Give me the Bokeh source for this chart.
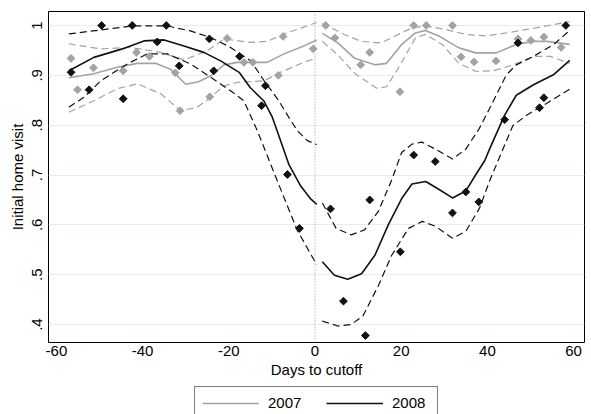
from bokeh.plotting import figure
from bokeh.layouts import column
from bokeh.models import Range1d, FixedTicker, Span, Legend, LegendItem
from bokeh.embed import file_html
from bokeh.resources import INLINE
import math

# ---- binned means (markers) ----
days_2007 = [-56.6, -55.1, -51.4, -44.5, -41.4, -38.4, -32.4, -31.3, -24.4, -20.4, -16.5, -14.4, -8.5, -7.4, -0.4,
             2.5, 4.6, 10.6, 12.7, 19.7, 22.9, 25.8, 31.9, 33.9, 36.9, 42.0, 47.1, 50.1, 53.1, 57.1]
visit_2007 = [0.934, 0.871, 0.915, 0.909, 0.946, 0.938, 0.905, 0.829, 0.857, 0.974, 0.926, 0.926, 0.900, 0.978, 0.953,
              1.0, 0.975, 0.921, 0.946, 0.867, 1.0, 1.0, 1.0, 0.937, 0.927, 0.929, 0.973, 0.970, 0.977, 0.956]
days_2008 = [-56.6, -52.4, -49.5, -44.5, -42.4, -36.6, -34.5, -31.5, -24.5, -23.5, -17.5, -12.4, -11.5, -6.4, -3.6,
             3.6, 6.6, 11.7, 12.7, 19.8, 22.9, 27.9, 31.9, 35.0, 38.0, 44.0, 47.1, 52.1, 53.1, 58.2]
visit_2008 = [0.906, 0.871, 1.0, 0.853, 1.0, 0.967, 1.0, 0.919, 0.973, 0.909, 0.938, 0.839, 0.879, 0.701, 0.593,
              0.632, 0.447, 0.378, 0.650, 0.546, 0.740, 0.727, 0.624, 0.666, 0.646, 0.811, 0.965, 0.835, 0.855, 1.0]

# ---- 2007 fits, left of cutoff ----
fit07_left_x = [-57.1, -51.3, -45.9, -41.2, -37.0, -33.5, -30.0, -27.0, -24.2, -21.1, -18.0, -11.1, -7.2, -2.6, 0.4]
fit07_left_y = [0.895, 0.903, 0.916, 0.924, 0.924, 0.912, 0.882, 0.887, 0.899, 0.921, 0.926, 0.926, 0.943, 0.959, 0.971]
hi07_left_x = [-57.1, -49.7, -42.8, -35.8, -30.4, -25.0, -21.1, -14.9, -11.1, -7.2, 0.4]
hi07_left_y = [0.963, 0.953, 0.956, 0.946, 0.931, 0.949, 0.973, 0.966, 0.968, 0.983, 1.006]
lo07_left_x = [-57.1, -51.3, -45.9, -41.2, -35.8, -31.2, -27.3, -24.2, -21.1, -18.0, -11.8, -8.0, -2.6, 0.4]
lo07_left_y = [0.826, 0.849, 0.873, 0.883, 0.863, 0.829, 0.836, 0.856, 0.879, 0.886, 0.889, 0.906, 0.926, 0.935]
# ---- 2007 fits, right of cutoff ----
fit07_right_x = [1.7, 5.3, 9.2, 13.9, 16.6, 20.1, 23.3, 25.6, 28.7, 33.4, 37.3, 42.1, 46.7, 50.7, 53.8, 59.1]
fit07_right_y = [0.984, 0.965, 0.934, 0.921, 0.924, 0.962, 0.985, 0.990, 0.979, 0.955, 0.945, 0.945, 0.962, 0.968, 0.968, 0.962]
hi07_right_x = [1.7, 6.8, 10.7, 15.4, 18.6, 22.5, 25.6, 30.3, 35.0, 39.7, 44.4, 49.1, 53.8, 59.1]
hi07_right_y = [1.004, 0.982, 0.968, 0.965, 0.979, 0.995, 0.999, 0.992, 0.982, 0.979, 0.985, 0.992, 0.999, 1.008]
lo07_right_x = [1.7, 5.3, 9.2, 14.3, 16.6, 19.3, 23.3, 25.6, 29.5, 33.4, 37.3, 41.3, 46.0, 50.7, 54.6, 59.1]
lo07_right_y = [0.968, 0.941, 0.904, 0.874, 0.877, 0.914, 0.975, 0.982, 0.962, 0.924, 0.908, 0.909, 0.921, 0.938, 0.938, 0.924]

# ---- 2008 fits, left of cutoff ----
fit08_left_x = [-57.1, -51.3, -44.7, -39.7, -35.0, -30.4, -25.8, -21.9, -17.6, -15.0, -11.9, -9.9, -8.0, -6.1, -3.4, -1.0, 0.4]
fit08_left_y = [0.909, 0.936, 0.953, 0.969, 0.971, 0.959, 0.946, 0.929, 0.906, 0.875, 0.849, 0.816, 0.769, 0.722, 0.679, 0.652, 0.641]
hi08_left_x = [-57.1, -49.7, -42.4, -34.3, -28.9, -24.2, -19.6, -14.9, -11.8, -8.4, -6.1, -4.1, -1.8, 0.4]
hi08_left_y = [0.983, 0.991, 0.999, 0.999, 0.989, 0.976, 0.956, 0.929, 0.889, 0.849, 0.816, 0.789, 0.769, 0.761]
lo08_left_x = [-57.1, -53.6, -49.7, -43.5, -38.9, -34.3, -28.9, -24.2, -19.6, -16.5, -13.4, -10.3, -7.2, -4.1, -0.65, 0.4]
lo08_left_y = [0.836, 0.856, 0.889, 0.923, 0.943, 0.943, 0.923, 0.896, 0.869, 0.849, 0.789, 0.722, 0.655, 0.589, 0.536, 0.520]
# ---- 2008 fits, right of cutoff ----
fit08_right_x = [1.7, 4.5, 7.6, 10.8, 13.9, 17.0, 20.2, 22.5, 25.7, 28.8, 31.9, 35.0, 37.4, 39.4, 40.5, 44.0, 46.7, 50.7, 55.3, 59.1]
fit08_right_y = [0.526, 0.499, 0.491, 0.502, 0.539, 0.600, 0.654, 0.682, 0.687, 0.671, 0.654, 0.668, 0.702, 0.729, 0.752, 0.820, 0.860, 0.881, 0.901, 0.930]
hi08_right_x = [1.7, 4.9, 8.4, 11.5, 14.7, 17.8, 20.1, 22.5, 24.8, 27.9, 31.9, 35.0, 38.1, 41.3, 44.4, 46.7, 50.7, 55.4, 59.1]
hi08_right_y = [0.644, 0.593, 0.580, 0.590, 0.627, 0.690, 0.745, 0.762, 0.766, 0.752, 0.732, 0.752, 0.793, 0.847, 0.901, 0.921, 0.938, 0.962, 0.990]
lo08_right_x = [1.7, 5.3, 8.4, 11.1, 14.7, 17.8, 21.7, 24.9, 28.0, 31.9, 35.0, 38.2, 40.5, 42.5, 45.9, 49.1, 53.0, 59.1]
lo08_right_y = [0.407, 0.397, 0.400, 0.417, 0.478, 0.539, 0.593, 0.607, 0.597, 0.573, 0.587, 0.634, 0.688, 0.729, 0.799, 0.820, 0.840, 0.872]

x_ticks = [-60, -40, -20, 0, 20, 40, 60]
x_tick_labels = ["-60", "-40", "-20", "0", "20", "40", "60"]
y_ticks = [0.4, 0.5, 0.6, 0.7, 0.8, 0.9, 1.0]
y_tick_labels = [".4", ".5", ".6", ".7", ".8", ".9", "1"]
series_labels = ["2007", "2008"]

FONT = "Liberation Sans"
GRAY = "#a3a3a3"
BLACK = "#111111"

p = figure(width=591, height=384, output_backend="svg", toolbar_location=None,
           x_range=Range1d(-61.83, 62.53), y_range=Range1d(0.364, 1.028),
           min_border_left=48, min_border_right=7, min_border_top=11, min_border_bottom=42)
p.background_fill_color = "white"
p.border_fill_color = "white"
p.outline_line_color = "black"
p.outline_line_width = 1

p.xgrid.visible = False
p.ygrid.ticker = FixedTicker(ticks=y_ticks)
p.ygrid.grid_line_color = "#e4edf0"
p.ygrid.grid_line_width = 1

for ax in (p.xaxis[0], p.yaxis[0]):
    ax.axis_line_color = None
    ax.major_tick_line_color = None
    ax.minor_tick_line_color = None
    ax.major_tick_out = 0
    ax.major_tick_in = 0
    ax.major_label_text_font = FONT
    ax.major_label_text_font_size = "15px"
    ax.major_label_text_color = "black"
    ax.axis_label_text_font = FONT
    ax.axis_label_text_font_size = "15px"
    ax.axis_label_text_font_style = "normal"
    ax.axis_label_text_color = "black"

p.xaxis.ticker = FixedTicker(ticks=x_ticks)
p.xaxis.major_label_overrides = {t: l for t, l in zip(x_ticks, x_tick_labels)}
p.xaxis.major_label_standoff = 3
p.xaxis.axis_label = "Days to cutoff"
p.xaxis.axis_label_standoff = 2

p.yaxis.ticker = FixedTicker(ticks=y_ticks)
p.yaxis.major_label_overrides = {t: l for t, l in zip(y_ticks, y_tick_labels)}
p.yaxis.major_label_orientation = "vertical"
p.yaxis.major_label_standoff = 6
p.yaxis.axis_label = "Initial home visit"
p.yaxis.axis_label_standoff = 4

p.add_layout(Span(location=0, dimension="height", line_color="#9a9a9a", line_dash="1 2", line_width=1))

DASH = "7 4"
# 2007 (gray)
p.line(fit07_left_x, fit07_left_y, line_color=GRAY, line_width=1.6)
p.line(fit07_right_x, fit07_right_y, line_color=GRAY, line_width=1.6)
for xs, ys in ((hi07_left_x, hi07_left_y), (lo07_left_x, lo07_left_y),
               (hi07_right_x, hi07_right_y), (lo07_right_x, lo07_right_y)):
    p.line(xs, ys, line_color=GRAY, line_width=1.2, line_dash=DASH)
# 2008 (black)
p.line(fit08_left_x, fit08_left_y, line_color=BLACK, line_width=1.6)
p.line(fit08_right_x, fit08_right_y, line_color=BLACK, line_width=1.6)
for xs, ys in ((hi08_left_x, hi08_left_y), (lo08_left_x, lo08_left_y),
               (hi08_right_x, hi08_right_y), (lo08_right_x, lo08_right_y)):
    p.line(xs, ys, line_color=BLACK, line_width=1.2, line_dash=DASH)

p.scatter(days_2007, visit_2007, marker="square", angle=math.pi / 4, size=5.5,
          fill_color=GRAY, line_color=GRAY)
p.scatter(days_2008, visit_2008, marker="square", angle=math.pi / 4, size=5.5,
          fill_color=BLACK, line_color=BLACK)

# ---- legend strip below the plot ----
lg = figure(width=591, height=30, output_backend="svg", toolbar_location=None,
            x_range=Range1d(0, 1), y_range=Range1d(0, 1), min_border=0,
            min_border_left=48, min_border_right=7)
lg.axis.visible = False
lg.grid.visible = False
lg.outline_line_color = None
lg.background_fill_color = "white"
lg.border_fill_color = "white"
# key glyphs only (drawn outside the visible range, they exist for the legend)
k07 = lg.line([-5, -4], [-5, -5], line_color=GRAY, line_width=1.3)
k08 = lg.line([-5, -4], [-5, -5], line_color=BLACK, line_width=1.6)
legend = Legend(items=[LegendItem(label=series_labels[0], renderers=[k07]),
                       LegendItem(label=series_labels[1], renderers=[k08])],
                orientation="horizontal", location="top_center", margin=2,
                padding=7, spacing=20, glyph_width=57, glyph_height=16,
                label_height=16, label_width=38, label_standoff=9,
                label_text_font=FONT, label_text_font_size="15px",
                label_text_color="black",
                border_line_color="black", border_line_width=1,
                background_fill_color="white", background_fill_alpha=1)
lg.add_layout(legend)

layout = column(p, lg, spacing=0)
open("out.html", "w").write(file_html(layout, INLINE))
